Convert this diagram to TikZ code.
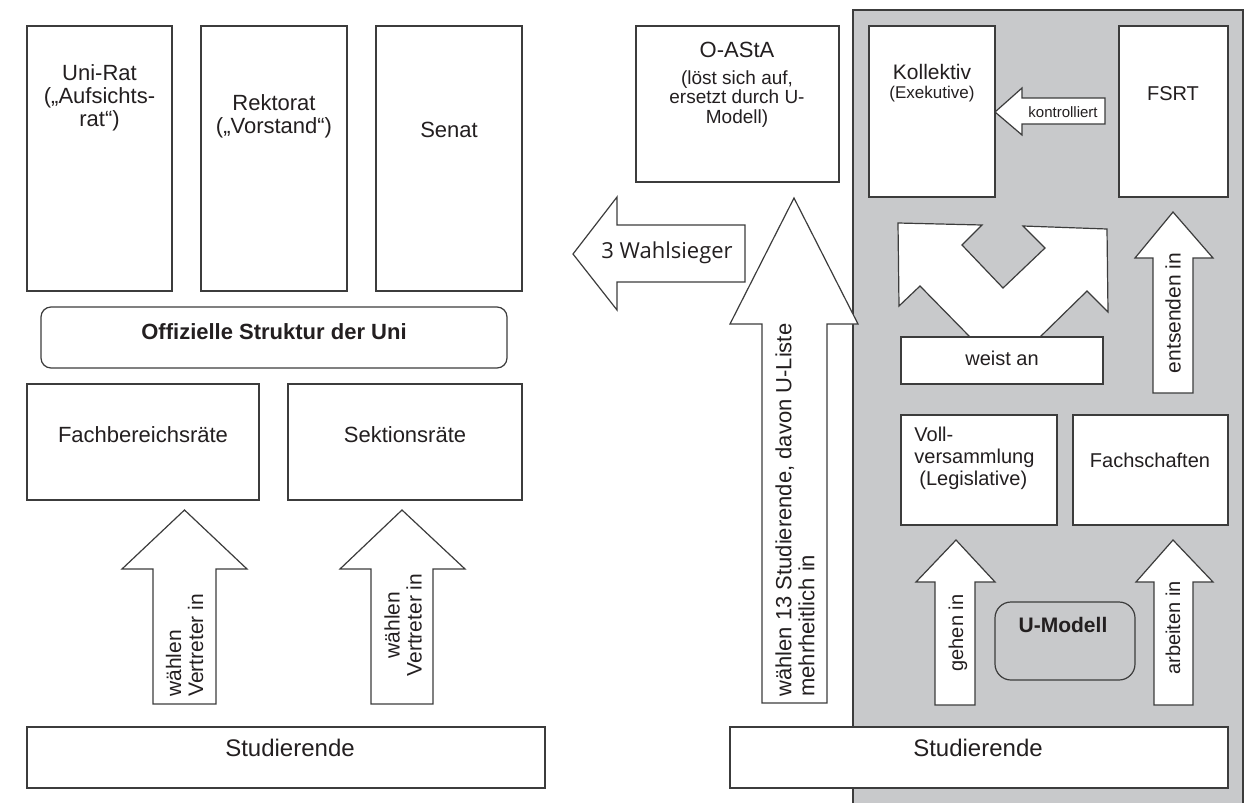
\documentclass[tikz,border=0pt]{standalone}
\usepackage{fontspec}
\setmainfont{Liberation Sans}
\newfontfamily\wahlfont{Open Sans}
\usepackage{tikz}

\definecolor{linegray}{RGB}{60,60,60}
\definecolor{panelgray}{RGB}{200,201,203}
\definecolor{textgray}{RGB}{35,31,32}

\begin{document}
\begin{tikzpicture}[x=0.5pt,y=-0.5pt,
    box/.style={draw=linegray,fill=white,line width=0.6pt},
    pfeil/.style={draw=linegray,fill=white,line width=0.6pt,line join=miter},
    txt/.style={inner sep=0pt,align=center,text=textgray,font=\fontsize{11}{11.5}\selectfont},
    klein/.style={txt,font=\fontsize{10}{11}\selectfont}]
      \useasboundingbox (0,0) rectangle (1253,803);
      % U-Modell Bereich
      \fill[panelgray] (853,10) rectangle (1243,803);
      \draw[linegray,line width=0.6pt] (853,803)--(853,10)--(1243,10)--(1243,803);

      % offizielle Struktur
      \draw[box] (27,26) rectangle (172,291);
      \draw[box] (201,26) rectangle (347,291);
      \draw[box] (376,26) rectangle (522,291);
      \node[txt] (unirat) at (99.5,98) {Uni-Rat\\(„Aufsichts-\\rat“)};
      \node[txt] (rektorat) at (274,116) {Rektorat\\(„Vorstand“)};
      \node[txt] (senat) at (449,130) {Senat};
      \draw[box,rounded corners=5pt] (41,307) rectangle (507,368);
      \node[txt,font=\fontsize{11}{12}\selectfont\bfseries] (offiziell) at (274,332) {Offizielle Struktur der Uni};
      \draw[box] (27,384) rectangle (259,500);
      \draw[box] (288,384) rectangle (522,500);
      \node[txt] (fbr) at (143,435) {Fachbereichsräte};
      \node[txt] (sektion) at (405,435) {Sektionsräte};
      \draw[pfeil] (184.5,510)--(247,569)--(216,569)--(216,704)--(153,704)--(153,569)--(122,569)--cycle;
      \draw[pfeil] (402,510)--(465,569)--(433,569)--(433,704)--(371,704)--(371,569)--(340,569)--cycle;
      \node[txt,font=\fontsize{10.5}{11}\selectfont,rotate=90,anchor=west,align=left] (waehlenA) at (184.5,697) {wählen\\Vertreter in};
      \node[txt,font=\fontsize{10.5}{11}\selectfont,rotate=90] (waehlenB) at (403,625) {wählen\\Vertreter in};
      \draw[box] (27,727) rectangle (545,788);
      \node[txt,font=\fontsize{12}{13}\selectfont] (studA) at (290,748) {Studierende};

      % O-AStA
      \draw[box] (636,26) rectangle (839,182);
      \node[txt] (oasta) at (737,50) {O-AStA};
      \node[txt,font=\fontsize{9.5}{9.8}\selectfont] (oastatxt) at (737,99) {(löst sich auf,\\ersetzt durch U-\\Modell)};
      \draw[pfeil] (573,254)--(617,197)--(617,225)--(745,225)--(745,282)--(617,282)--(617,310)--cycle;
      \node[txt,font=\wahlfont\fontsize{11}{12}\selectfont] (wahlsieger) at (667,253) {3 Wahlsieger};
      \draw[pfeil] (794,198)--(858,324)--(827,324)--(827,703)--(762,703)--(762,324)--(730,324)--cycle;
      \node[txt,rotate=90,anchor=west,align=left] (dreizehn) at (795,697) {wählen 13 Studierende, davon U-Liste\\mehrheitlich in};

      % U-Modell
      \draw[box] (869,26) rectangle (995,197);
      \draw[box] (1119,26) rectangle (1228,197);
      \node[txt,font=\fontsize{10.5}{11}\selectfont] (kollektiv) at (932,72) {Kollektiv};
      \node[txt,font=\fontsize{8.5}{9}\selectfont] (exekutive) at (932,94) {(Exekutive)};
      \node[klein] (fsrt) at (1173,94) {FSRT};
      \draw[pfeil] (995,112)--(1022,88)--(1022,98)--(1105,98)--(1105,124)--(1022,124)--(1022,135)--cycle;
      \node[txt,font=\fontsize{7.5}{8}\selectfont] (kontrolle) at (1063,112) {kontrolliert};
      \draw[pfeil] (898,223)--(982,225)--(962,245)--(1003,288)--(1045,248)--(1023,226)--(1107,229)
        --(1108,312)--(1087,291)--(1040,337)--(970,337)--(920,286)--(899,306)--cycle;
      \draw[box] (901,337) rectangle (1103,384);
      \node[klein] (weist) at (1002,358) {weist an};
      \draw[pfeil] (1173,212)--(1213,258)--(1193,258)--(1193,393)--(1153,393)--(1153,258)--(1135,258)--cycle;
      \node[klein,font=\fontsize{10.5}{11}\selectfont,rotate=90] (entsenden) at (1173,313) {entsenden in};
      \draw[box] (901,415) rectangle (1057,525);
      \draw[box] (1073,415) rectangle (1228,525);
      \node[klein,align=left,anchor=north west] (vollvers) at (914,427) {Voll-\\versammlung\\\hspace{0.25em}(Legislative)};
      \node[klein] (fachschaft) at (1150,460) {Fachschaften};
      \draw[pfeil] (956,540)--(995,582)--(975,582)--(975,705)--(935,705)--(935,582)--(916,582)--cycle;
      \draw[pfeil] (1173,540)--(1213,582)--(1193,582)--(1193,705)--(1154,705)--(1154,582)--(1136,582)--cycle;
      \node[klein,rotate=90] (gehen) at (958,633) {gehen in};
      \node[klein,rotate=90] (arbeiten) at (1173,628) {arbeiten in};
      \draw[draw=linegray,line width=0.6pt,rounded corners=8pt] (995,602) rectangle (1135,680);
      \node[klein,font=\fontsize{10.5}{11}\selectfont\bfseries] (umodell) at (1063,625) {U-Modell};
      \draw[box] (730,727) rectangle (1228,788);
      \node[txt,font=\fontsize{12}{13}\selectfont] (studB) at (978,748) {Studierende};
    \end{tikzpicture}
\end{document}
